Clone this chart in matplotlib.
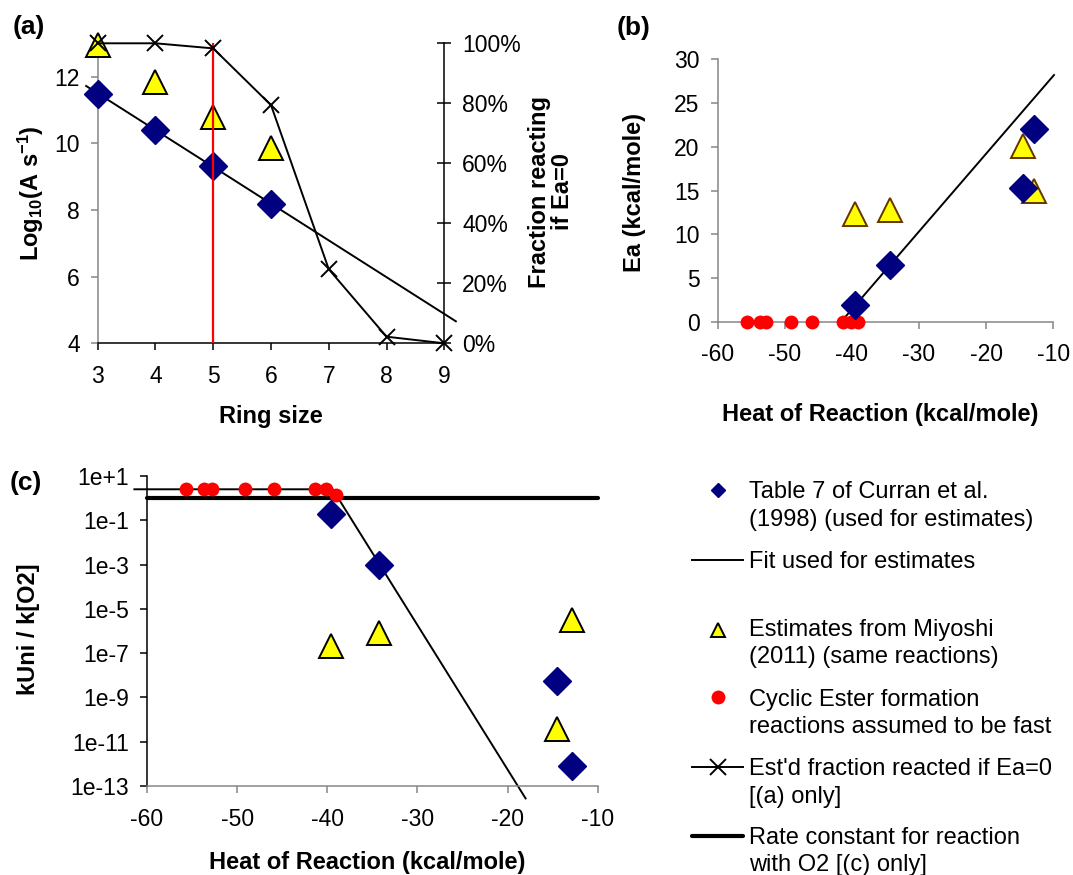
import matplotlib
matplotlib.use('Agg')
import numpy as np
import matplotlib.pyplot as plt
import matplotlib.transforms as mtransforms
from matplotlib.ticker import PercentFormatter, FixedLocator, NullLocator, FixedFormatter

plt.rcParams['font.family'] = ['Liberation Sans', 'DejaVu Sans']
plt.rcParams['mathtext.fontset'] = 'custom'
plt.rcParams['mathtext.rm'] = 'Liberation Sans'
plt.rcParams['mathtext.bf'] = 'Liberation Sans:bold'
plt.rcParams['mathtext.it'] = 'Liberation Sans:italic'
plt.rcParams['axes.unicode_minus'] = False

# ---------------- data ----------------
# panel (a)
ring_size = [3, 4, 5, 6, 7, 8, 9]
frac_reacted = [1.0, 1.0, 0.983, 0.794, 0.247, 0.022, 0.0]
ring_curran = [3, 4, 5, 6]
logA_curran = [11.48, 10.40, 9.32, 8.18]
ring_miyoshi = [3, 4, 5, 6]
logA_miyoshi = [12.96, 11.84, 10.79, 9.87]
fit_a_ring = [2.8, 9.2]
fit_a_logA = [11.72, 4.66]
ring_marker = 5
a_xticks = [3, 4, 5, 6, 7, 8, 9]
a_yticks = [4, 6, 8, 10, 12]
a_y2ticks = [0, 0.2, 0.4, 0.6, 0.8, 1.0]

# panel (b)
dH_curran = [-39.6, -34.3, -14.5, -12.9]
Ea_curran = [1.9, 6.5, 15.3, 22.0]
dH_miyoshi = [-39.6, -34.3, -14.5, -12.85]
Ea_miyoshi = [12.3, 12.8, 20.1, 14.9]
dH_ester = [-55.7, -53.7, -52.8, -49.1, -45.9, -41.35, -40.1, -39.05]
Ea_ester = [0, 0, 0, 0, 0, 0, 0, 0]
fit_b_dH = [-41.6, -9.9]
fit_b_Ea = [0.0, 28.2]
b_xticks = [-60, -50, -40, -30, -20, -10]
b_yticks = [0, 5, 10, 15, 20, 25, 30]

# panel (c)  (log10 of kUni / k[O2])
log_ratio_curran = [-0.73, -3.0, -8.26, -12.1]
log_ratio_miyoshi = [-6.69, -6.09, -10.43, -5.50]
log_ratio_ester = [0.4, 0.4, 0.4, 0.4, 0.4, 0.4, 0.4, 0.14]
fit_c_dH = [-61.4, -39.4, -18.0]
fit_c_log = [0.4, 0.4, -13.56]
o2_dH = [-60, -10]
o2_log = [0.0, 0.0]
c_xticks = [-60, -50, -40, -30, -20, -10]
c_ytick_exp = [1, -1, -3, -5, -7, -9, -11, -13]
c_ytick_labels = ['1e+1', '1e-1', '1e-3', '1e-5', '1e-7', '1e-9', '1e-11', '1e-13']

legend_entries = [
    ('diamond', ['Table 7 of Curran et al.', '(1998) (used for estimates)']),
    ('line', ['Fit used for estimates']),
    ('triangle', ['Estimates from Miyoshi', '(2011) (same reactions)']),
    ('dot', ['Cyclic Ester formation', 'reactions assumed to be fast']),
    ('xline', ["Est'd fraction reacted if Ea=0", '[(a) only]']),
    ('thick', ['Rate constant for reaction', 'with O2 [(c) only]']),
]

# ---------------- style ----------------
NAVY = '#000080'
YEL = '#FFFF00'
GRAY = '#868686'
TFS = 16.5
LFS = 17
DMS = 14      # diamond marker size
TMS = 17.5    # triangle marker size
OMS = 10      # dot marker size

W, H = 1073, 875
fig = plt.figure(figsize=(W / 100, H / 100), dpi=100)
PX = mtransforms.Affine2D().scale(1 / W, -1 / H).translate(0, 1) + fig.transFigure


def box(l, t, r, b):
    return [l / W, 1 - b / H, (r - l) / W, (b - t) / H]


# legend canvas (behind everything)
lax = fig.add_axes([0, 0, 1, 1])
lax.set_xlim(0, W)
lax.set_ylim(H, 0)
lax.axis('off')


def style_axes(ax, xcol, ycol):
    for s in ['top', 'right']:
        ax.spines[s].set_visible(False)
    ax.spines['left'].set_color(ycol)
    ax.spines['bottom'].set_color(xcol)
    ax.spines['left'].set_linewidth(1.1)
    ax.spines['bottom'].set_linewidth(1.1)
    ax.tick_params(axis='x', direction='out', length=5, width=1.1, color=xcol,
                   labelsize=TFS, pad=10.5)
    ax.tick_params(axis='y', direction='out', length=5, width=1.1, color=ycol,
                   labelsize=TFS, pad=8)
    ax.set_facecolor('none')


# ================= panel (a) =================
axa = fig.add_axes(box(97.7, 43.3, 444.3, 343.3))
style_axes(axa, 'black', GRAY)
axa.set_xlim(3, 9)
axa.set_ylim(4, 13)
axa.xaxis.set_major_locator(FixedLocator(a_xticks))
axa.yaxis.set_major_locator(FixedLocator(a_yticks))
axa.plot(fit_a_ring, fit_a_logA, color='black', lw=1.4, zorder=2, clip_on=False)
axa.plot(ring_curran, logA_curran, ls='none', marker='D', ms=DMS, mfc=NAVY, mec=NAVY,
         zorder=4, clip_on=False)
axa.plot(ring_miyoshi, logA_miyoshi, ls='none', marker='^', ms=TMS, mfc=YEL, mec='black',
         mew=1.4, zorder=3, clip_on=False)
axa.axvline(ring_marker, color='red', lw=1.6, zorder=5)

axa2 = axa.twinx()
axa2.set_ylim(0, 1)
for s in ['top', 'left', 'bottom']:
    axa2.spines[s].set_visible(False)
axa2.spines['right'].set_color('black')
axa2.spines['right'].set_linewidth(1.1)
axa2.yaxis.set_major_locator(FixedLocator(a_y2ticks))
axa2.yaxis.set_major_formatter(PercentFormatter(1.0, decimals=0))
axa2.tick_params(axis='y', direction='inout', length=10, width=1.1, labelsize=TFS, pad=8)
axa2.plot(ring_size, frac_reacted, color='black', lw=1.4, marker='x', ms=11, mew=1.4,
          zorder=3, clip_on=False)

axa.set_xlabel('Ring size', fontsize=LFS, fontweight='bold')
axa.xaxis.set_label_coords(271, 416.7, transform=PX)
axa.xaxis.label.set_va('center')
axa.set_ylabel(r'Log$_{\mathregular{10}}$(A s$^{\mathbf{-1}}$)', fontsize=LFS, fontweight='bold')
axa.yaxis.set_label_coords(31, 193, transform=PX)
axa.yaxis.label.set_va('center')
axa2.set_ylabel('Fraction reacting\nif Ea=0', fontsize=LFS, fontweight='bold',
                multialignment='center', linespacing=1.05)
axa2.yaxis.set_label_coords(551, 192, transform=PX)
axa2.yaxis.label.set_va('center')

# ================= panel (b) =================
axb = fig.add_axes(box(717.7, 59.3, 1053.3, 321.7))
style_axes(axb, GRAY, GRAY)
axb.set_xlim(-60, -10)
axb.set_ylim(0, 30)
axb.xaxis.set_major_locator(FixedLocator(b_xticks))
axb.yaxis.set_major_locator(FixedLocator(b_yticks))
axb.plot(fit_b_dH, fit_b_Ea, color='black', lw=1.4, zorder=2, clip_on=False)
axb.plot(dH_miyoshi, Ea_miyoshi, ls='none', marker='^', ms=TMS, mfc=YEL, mec='#663300',
         mew=1.4, zorder=3, clip_on=False)
axb.plot(dH_ester, Ea_ester, ls='none', marker='o', ms=OMS, mfc='red', mec='red', mew=0,
         zorder=4, clip_on=False)
axb.plot(dH_curran, Ea_curran, ls='none', marker='D', ms=DMS, mfc=NAVY, mec=NAVY,
         zorder=5, clip_on=False)
axb.set_xlabel('Heat of Reaction (kcal/mole)', fontsize=LFS, fontweight='bold')
axb.xaxis.set_label_coords(880, 415, transform=PX)
axb.xaxis.label.set_va('center')
axb.set_ylabel('Ea (kcal/mole)', fontsize=LFS, fontweight='bold')
axb.yaxis.set_label_coords(634, 192.5, transform=PX)
axb.yaxis.label.set_va('center')

# ================= panel (c) =================
axc = fig.add_axes(box(147, 476, 597.7, 786))
style_axes(axc, GRAY, 'black')
axc.set_yscale('log')
axc.set_xlim(-60, -10)
axc.set_ylim(10.0 ** -13, 10.0 ** 1)
axc.xaxis.set_major_locator(FixedLocator(c_xticks))
axc.yaxis.set_major_locator(FixedLocator([10.0 ** e for e in c_ytick_exp]))
axc.yaxis.set_major_formatter(FixedFormatter(c_ytick_labels))
axc.yaxis.set_minor_locator(NullLocator())
axc.plot(o2_dH, 10.0 ** np.array(o2_log), color='black', lw=3.0, zorder=2,
         solid_capstyle='round', clip_on=False)
axc.plot(fit_c_dH, 10.0 ** np.array(fit_c_log), color='black', lw=1.4, zorder=2, clip_on=False)
axc.plot(dH_miyoshi, 10.0 ** np.array(log_ratio_miyoshi), ls='none', marker='^', ms=TMS,
         mfc=YEL, mec='black', mew=1.4, zorder=3, clip_on=False)
axc.plot(dH_ester, 10.0 ** np.array(log_ratio_ester), ls='none', marker='o', ms=OMS,
         mfc='red', mec='red', mew=0, zorder=4, clip_on=False)
axc.plot(dH_curran, 10.0 ** np.array(log_ratio_curran), ls='none', marker='D', ms=DMS,
         mfc=NAVY, mec=NAVY, zorder=5, clip_on=False)
axc.set_xlabel('Heat of Reaction (kcal/mole)', fontsize=LFS, fontweight='bold')
axc.xaxis.set_label_coords(367, 863, transform=PX)
axc.xaxis.label.set_va('center')
axc.set_ylabel('kUni / k[O2]', fontsize=LFS, fontweight='bold')
axc.yaxis.set_label_coords(29, 629, transform=PX)
axc.yaxis.label.set_va('center')

# panel letters
fig.text(12.5 / W, 1 - 26.7 / H, '(a)', fontsize=19, fontweight='bold', ha='left', va='center')
fig.text(616.7 / W, 1 - 28.3 / H, '(b)', fontsize=19, fontweight='bold', ha='left', va='center')
fig.text(10 / W, 1 - 483.3 / H, '(c)', fontsize=19, fontweight='bold', ha='left', va='center')

# ================= legend =================
entry_y = [490, 560, 627.5, 697.3, 766.7, 835.5]
line_gap = 27.5
hx, lx0, lx1, tx = 717.7, 691.7, 743.3, 749.3
for (kind, lines), y in zip(legend_entries, entry_y):
    if kind == 'diamond':
        lax.plot([hx], [y], ls='none', marker='D', ms=7.5, mfc=NAVY, mec=NAVY)
    elif kind == 'line':
        lax.plot([lx0, lx1], [y, y], color='black', lw=1.4)
    elif kind == 'triangle':
        lax.plot([hx], [y + 2], ls='none', marker='^', ms=10.5, mfc=YEL, mec='black', mew=1.4)
    elif kind == 'dot':
        lax.plot([hx], [y], ls='none', marker='o', ms=10, mfc='red', mec='red', mew=0)
    elif kind == 'xline':
        lax.plot([lx0, lx1], [y, y], color='black', lw=1.4)
        lax.plot([hx], [y], ls='none', marker='x', ms=11, mew=1.4, color='black')
    elif kind == 'thick':
        lax.plot([lx0, lx1], [y, y], color='black', lw=3.0, solid_capstyle='round')
    for i, t in enumerate(lines):
        lax.text(tx, y + i * line_gap + 8.4, t, fontsize=LFS, ha='left', va='baseline')

fig.savefig('out.png', dpi=100, facecolor='white')
